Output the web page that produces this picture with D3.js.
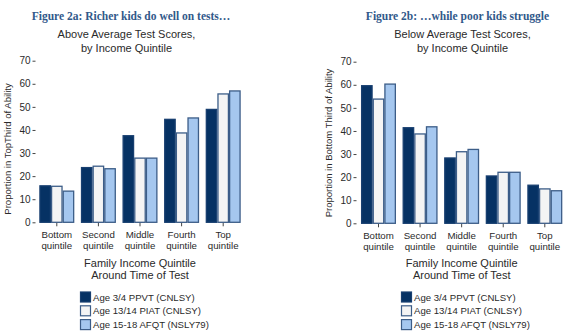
<!DOCTYPE html>
<html>
<head>
<meta charset="utf-8">
<script src="https://cdn.jsdelivr.net/npm/d3@7/dist/d3.min.js"></script>
<style>
  html, body { margin: 0; padding: 0; background: #fff; }
  svg { display: block; }
  text { font-family: "Liberation Sans", Arial, sans-serif; fill: #2a2a2a; }
</style>
</head>
<body>
<svg id="chart" width="570" height="331"></svg>
<script>
// ---- Data ----
const categories = ["Bottom", "Second", "Middle", "Fourth", "Top"];
const seriesNames = ["Age 3/4 PPVT (CNLSY)", "Age 13/14 PIAT (CNLSY)", "Age 15-18 AFQT (NSLY79)"];
const yTicks = [0, 10, 20, 30, 40, 50, 60, 70];

// Figure 2a: proportion in top third of ability
const abovePPVT = [15.8, 23.7, 37.5, 44.6, 48.9];
const abovePIAT = [15.6, 24.3, 27.8, 38.7, 55.6];
const aboveAFQT = [13.5, 23.2, 27.8, 45.2, 56.9];

// Figure 2b: proportion in bottom third of ability
const belowPPVT = [59.6, 41.4, 28.3, 20.5, 16.5];
const belowPIAT = [53.8, 38.7, 31.0, 22.1, 14.9];
const belowAFQT = [60.3, 41.8, 32.0, 22.1, 14.1];

const fills = ["#063264", "#f4f4f4", "#a5c7ef"];
const strokes = ["#183f70", "#3c5d88", "#3c5d88"];

const svg = d3.select("#chart");

function drawPanel(cfg) {
  const g = svg.append("g");
  const data = categories.map((c, i) => ({cat: c, vals: cfg.series.map(s => s[i])}));

  const x = d3.scaleBand().domain(categories).range(cfg.xRange).paddingInner(0.16).paddingOuter(0.08);
  const xs = d3.scaleBand().domain(d3.range(3)).range([0, x.bandwidth()]).padding(0);
  const y = d3.scaleLinear().domain([0, 70]).range(cfg.yRange);

  // Figure title
  g.append("text").attr("x", cfg.titleX).attr("y", 20).attr("text-anchor", "middle")
    .style("font-family", "'Liberation Serif', 'DejaVu Serif', serif")
    .style("font-weight", "bold").style("font-size", "11.5px").style("fill", "#31598a")
    .text(cfg.title);

  // subtitle
  g.append("text").attr("x", cfg.subX).attr("y", 37.5).attr("text-anchor", "middle")
    .style("font-size", "11px").text(cfg.sub1);
  g.append("text").attr("x", cfg.subX).attr("y", 51.5).attr("text-anchor", "middle")
    .style("font-size", "11px").text("by Income Quintile");

  // y axis
  const yAxis = d3.axisLeft(y).tickValues(yTicks).tickSize(3).tickPadding(2);
  const ya = g.append("g").attr("transform", `translate(${cfg.yAxisX},0)`).call(yAxis);
  ya.select(".domain").remove();
  ya.selectAll(".tick line").attr("stroke", "#444");
  ya.selectAll(".tick text").style("font-size", "10px").style("font-family", "'Liberation Sans', Arial, sans-serif").attr("fill", "#333");

  // y axis label
  g.append("text")
    .attr("transform", `translate(${cfg.yLabelX},${cfg.yLabelY}) rotate(-90)`)
    .attr("text-anchor", "middle").style("font-size", "9.5px").text(cfg.yLabel);

  // x ticks
  const xa = g.append("g").attr("transform", `translate(0,${cfg.yRange[0]})`)
    .call(d3.axisBottom(x).tickSize(4).tickFormat(""));
  xa.select(".domain").remove();
  xa.selectAll(".tick line").attr("stroke", "#444");

  categories.forEach(c => {
    const cx = x(c) + x.bandwidth() / 2;
    g.append("text").attr("x", cx).attr("y", cfg.yRange[0] + 16).attr("text-anchor", "middle")
      .style("font-size", "9.7px").attr("fill", "#333").text(c);
    g.append("text").attr("x", cx).attr("y", cfg.yRange[0] + 27).attr("text-anchor", "middle")
      .style("font-size", "9.7px").attr("fill", "#333").text("quintile");
  });

  // bars
  const groups = g.selectAll(".grp").data(data).join("g")
    .attr("transform", d => `translate(${x(d.cat)},0)`);
  groups.selectAll("rect").data(d => d.vals.map((v, i) => ({v, i}))).join("rect")
    .attr("x", d => xs(d.i) + 0.6)
    .attr("width", xs.bandwidth() - 1.2)
    .attr("y", d => y(d.v))
    .attr("height", d => y(0) - y(d.v))
    .attr("fill", d => fills[d.i])
    .attr("stroke", d => strokes[d.i])
    .attr("stroke-width", 1.3);

  // x axis title
  g.append("text").attr("x", cfg.xTitleX).attr("y", 266.7).attr("text-anchor", "middle")
    .style("font-size", "11px").text("Family Income Quintile");
  g.append("text").attr("x", cfg.xTitleX).attr("y", 278.5).attr("text-anchor", "middle")
    .style("font-size", "11px").text("Around Time of Test");

  // legend
  const lg = g.append("g").attr("transform", `translate(${cfg.legendX},291.5)`);
  seriesNames.forEach((s, i) => {
    lg.append("rect").attr("x", 0.5).attr("y", i * 13.8 + 0.5).attr("width", 10).attr("height", 10)
      .attr("fill", fills[i]).attr("stroke", strokes[i]).attr("stroke-width", 1.2);
    lg.append("text").attr("x", 13).attr("y", i * 13.8 + 9).style("font-size", "9.6px").text(s);
  });
}

drawPanel({
  series: [abovePPVT, abovePIAT, aboveAFQT],
  xRange: [36, 244],
  yRange: [222.3, 60.7],
  yAxisX: 35.5,
  title: "Figure 2a: Richer kids do well on tests…",
  titleX: 131,
  sub1: "Above Average Test Scores,",
  subX: 126.5,
  yLabel: "Proportion in TopThird of Ability",
  yLabelX: 10.5,
  yLabelY: 149,
  xTitleX: 140,
  legendX: 80
});

drawPanel({
  series: [belowPPVT, belowPIAT, belowAFQT],
  xRange: [357.7, 565.6],
  yRange: [223.3, 61.7],
  yAxisX: 356.5,
  title: "Figure 2b: …while poor kids struggle",
  titleX: 457.5,
  sub1: "Below Average Test Scores,",
  subX: 462.5,
  yLabel: "Proportion in Bottom Third of Ability",
  yLabelX: 331.5,
  yLabelY: 143,
  xTitleX: 461.7,
  legendX: 401
});
</script>
</body>
</html>
